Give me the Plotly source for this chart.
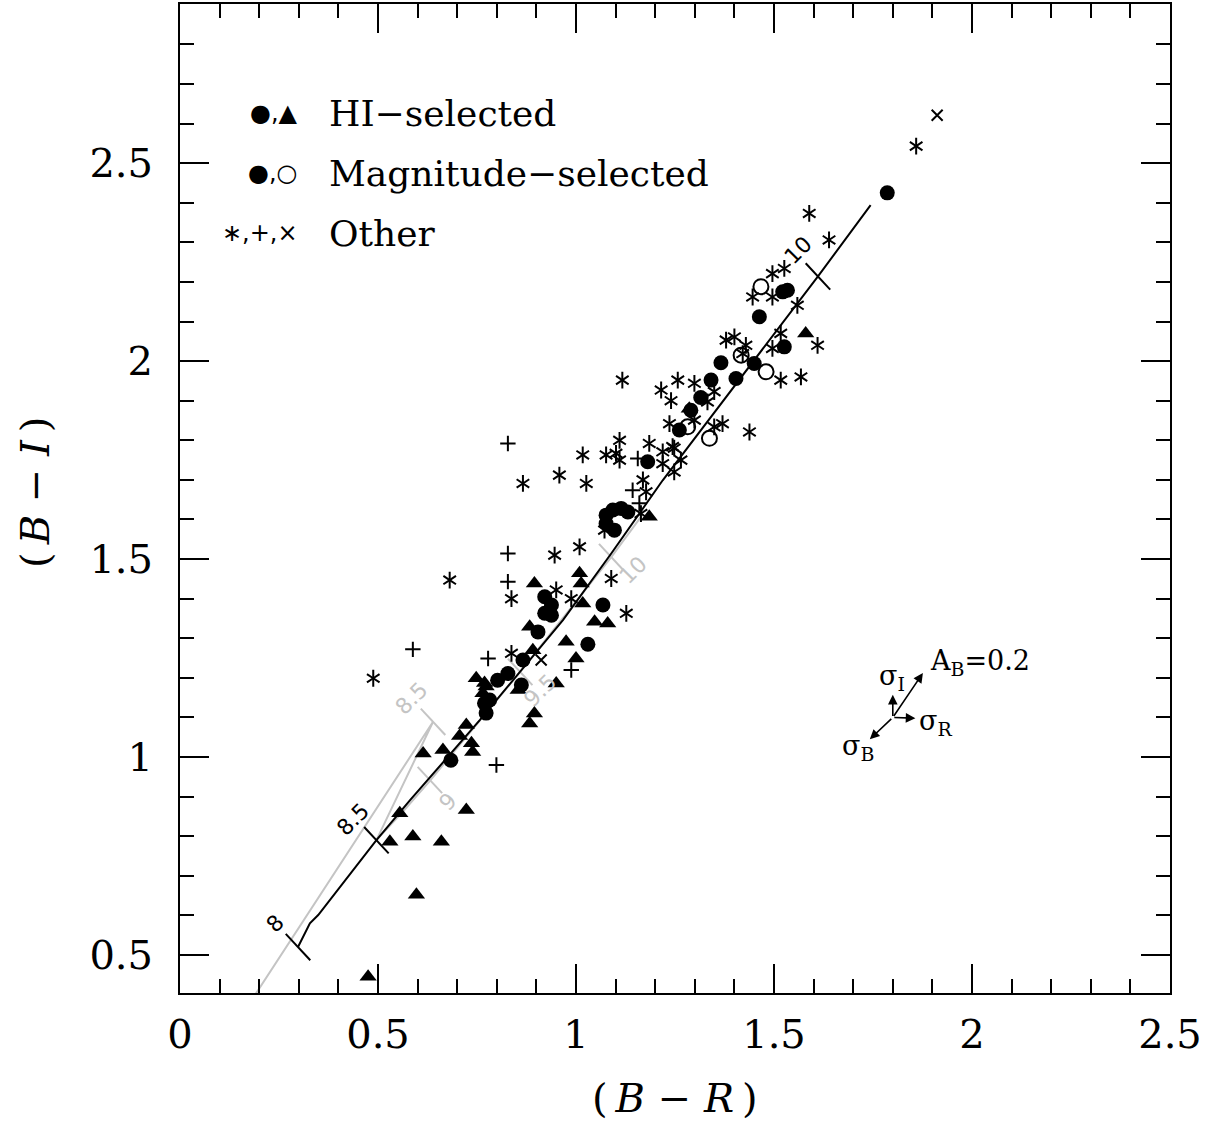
import plotly.graph_objects as go

# ---------------- data ----------------
# filled circles: HI- and magnitude-selected
filled_x = [0.684, 0.769, 0.773, 0.782, 0.802, 0.828, 0.862, 0.866, 0.904, 0.921, 0.921,
            0.938, 0.938, 1.030, 1.068, 1.076, 1.093, 1.114, 1.131, 1.097, 1.076, 1.181,
            1.261, 1.290, 1.315, 1.341, 1.366, 1.404, 1.450, 1.463, 1.522, 1.534, 1.526, 1.786]
filled_y = [0.992, 1.136, 1.111, 1.144, 1.194, 1.211, 1.182, 1.245, 1.316, 1.405, 1.363,
            1.358, 1.384, 1.285, 1.384, 1.611, 1.624, 1.628, 1.619, 1.573, 1.590, 1.746,
            1.826, 1.876, 1.908, 1.952, 1.996, 1.956, 1.994, 2.112, 2.175, 2.179, 2.036, 2.425]

# triangles: HI-selected only
tri_x = [0.475, 0.597, 0.530, 0.588, 0.660, 0.555, 0.723, 0.614, 0.664, 0.706, 0.723,
         0.736, 0.739, 0.748, 0.765, 0.773, 0.769, 0.854, 0.883, 0.895, 0.950, 0.883,
         0.891, 0.895, 0.975, 1.000, 1.009, 1.013, 1.017, 1.047, 1.080, 1.185, 1.286, 1.580]
tri_y = [0.445, 0.652, 0.786, 0.799, 0.786, 0.858, 0.866, 1.009, 1.018, 1.053, 1.081,
         1.035, 1.013, 1.199, 1.161, 1.178, 1.187, 1.169, 1.085, 1.110, 1.186, 1.329,
         1.270, 1.438, 1.291, 1.249, 1.464, 1.438, 1.388, 1.342, 1.337, 1.607, 1.880, 2.070]

# open circles: magnitude-selected only
open_x = [1.282, 1.337, 1.417, 1.467, 1.480]
open_y = [1.834, 1.805, 2.015, 2.188, 1.973]

# other: asterisks, pluses, crosses
star_x = [0.488, 0.681, 0.837, 0.837, 0.866, 0.958, 1.026, 1.017, 1.076, 1.101, 1.110,
          1.110, 1.117, 0.946, 1.009, 0.950, 0.988, 1.072, 1.089, 1.127, 1.164, 1.169,
          1.177, 1.185, 1.219, 1.248, 1.219, 1.265, 1.248, 1.244, 1.236, 1.215, 1.240,
          1.257, 1.299, 1.349, 1.332, 1.299, 1.349, 1.370, 1.438, 1.379, 1.400, 1.429,
          1.421, 1.496, 1.517, 1.517, 1.568, 1.559, 1.610, 1.446, 1.496, 1.496, 1.526,
          1.589, 1.639, 1.859]
star_y = [1.199, 1.447, 1.262, 1.400, 1.691, 1.712, 1.691, 1.763, 1.763, 1.767, 1.750,
          1.800, 1.952, 1.510, 1.531, 1.422, 1.400, 1.573, 1.451, 1.363, 1.615, 1.700,
          1.670, 1.792, 1.771, 1.780, 1.741, 1.750, 1.720, 1.784, 1.842, 1.927, 1.900,
          1.952, 1.944, 1.923, 1.897, 1.851, 1.834, 1.842, 1.821, 2.053, 2.061, 2.040,
          2.019, 2.032, 2.070, 1.952, 1.960, 2.141, 2.040, 2.162, 2.162, 2.221, 2.234,
          2.373, 2.306, 2.543]

plus_x = [0.588, 0.778, 0.799, 0.828, 0.828, 0.828, 0.988, 1.143, 1.160, 1.156]
plus_y = [1.272, 1.249, 0.980, 1.792, 1.514, 1.443, 1.220, 1.674, 1.641, 1.754]

cross_x = [0.912, 1.912]
cross_y = [1.245, 2.621]

# model tracks
black_track_x = [0.298, 0.328, 0.349, 0.496, 0.581, 0.757, 0.967, 1.089, 1.219, 1.611, 1.744]
black_track_y = [0.520, 0.580, 0.601, 0.790, 0.891, 1.093, 1.346, 1.514, 1.699, 2.214, 2.394]
gray_track_x = [0.177, 0.639, 0.496, 0.563, 0.631, 0.859, 1.089, 1.170]
gray_track_y = [0.380, 1.089, 0.790, 0.862, 0.940, 1.215, 1.505, 1.615]

# age ticks on tracks
black_tick_x = [0.298, 0.496, 1.611]
black_tick_y = [0.520, 0.790, 2.214]
black_tick_labels = ["8", "8.5", "10"]
black_label_x = [0.240, 0.437, 1.560]
black_label_y = [0.580, 0.841, 2.280]

gray_tick_x = [0.639, 0.631, 0.859, 1.089]
gray_tick_y = [1.089, 0.942, 1.215, 1.505]
gray_tick_labels = ["8.5", "9", "9.5", "10"]
gray_label_x = [0.584, 0.677, 0.910, 1.143]
gray_label_y = [1.148, 0.887, 1.167, 1.472]

# error / reddening vectors
err_origin_x = 1.800
err_origin_y = 1.100
err_tip_x = [1.876, 1.742, 1.800, 1.857]
err_tip_y = [1.212, 1.045, 1.157, 1.098]
err_labels = ["A<sub>B</sub>=0.2", "σ<sub>B</sub>", "σ<sub>I</sub>", "σ<sub>R</sub>"]
err_label_x = [1.890, 1.712, 1.798, 1.862]
err_label_y = [1.240, 1.023, 1.202, 1.088]
err_label_anchor = ["left", "center", "center", "left"]

# legend
legend_symbols = ["●,▲", "●,○", "∗,+,×"]
legend_texts = ["HI−selected", "Magnitude−selected", "Other"]
legend_y = [2.626, 2.475, 2.323]

x_ticks = [0, 0.5, 1, 1.5, 2, 2.5]
x_ticktext = ["0", "0.5", "1", "1.5", "2", "2.5"]
y_ticks = [0.5, 1, 1.5, 2, 2.5]
y_ticktext = ["0.5", "1", "1.5", "2", "2.5"]

# ---------------- styles ----------------
GRAY = "#c4c4c4"
SERIF = "DejaVu Serif"
SANS = "DejaVu Sans"
XR = [0, 2.5]
YR = [0.404, 2.902]
W, H = 1215, 1125
ML, MR, MT, MB = 180, 45, 4, 132
PXX = (W - ML - MR) / (XR[1] - XR[0])
PXY = (H - MT - MB) / (YR[1] - YR[0])
TICK_HALF = 18.0
TDIR = (0.681, 0.732)  # screen direction of tick marks (right, down)

fig = go.Figure()


def tick_segments(xs, ys):
    sx, sy = [], []
    dx = TICK_HALF * TDIR[0] / PXX
    dy = TICK_HALF * TDIR[1] / PXY
    for x, y in zip(xs, ys):
        sx += [x - dx, x + dx, None]
        sy += [y + dy, y - dy, None]
    return sx, sy


# gray track
fig.add_trace(go.Scatter(x=gray_track_x, y=gray_track_y, mode="lines",
                         line=dict(color=GRAY, width=2), hoverinfo="skip"))
gx, gy = tick_segments(gray_tick_x, gray_tick_y)
fig.add_trace(go.Scatter(x=gx, y=gy, mode="lines",
                         line=dict(color=GRAY, width=2), hoverinfo="skip"))
# black track
fig.add_trace(go.Scatter(x=black_track_x, y=black_track_y, mode="lines",
                         line=dict(color="black", width=2), hoverinfo="skip"))
bx, by = tick_segments(black_tick_x, black_tick_y)
fig.add_trace(go.Scatter(x=bx, y=by, mode="lines",
                         line=dict(color="black", width=2), hoverinfo="skip"))

# markers
fig.add_trace(go.Scatter(x=tri_x, y=tri_y, mode="markers",
                         marker=dict(symbol="triangle-up", size=15, color="black",
                                     line=dict(width=0))))
fig.add_trace(go.Scatter(x=filled_x, y=filled_y, mode="markers",
                         marker=dict(symbol="circle", size=15, color="black",
                                     line=dict(width=0))))
fig.add_trace(go.Scatter(x=open_x, y=open_y, mode="markers",
                         marker=dict(symbol="circle-open", size=15, color="black",
                                     line=dict(width=2, color="black"))))
for sym in ["y-up-open", "y-down-open"]:
    fig.add_trace(go.Scatter(x=star_x, y=star_y, mode="markers",
                             marker=dict(symbol=sym, size=10.5, color="black",
                                         line=dict(width=2, color="black"))))
fig.add_trace(go.Scatter(x=plus_x, y=plus_y, mode="markers",
                         marker=dict(symbol="cross-thin-open", size=11, color="black",
                                     line=dict(width=2, color="black"))))
fig.add_trace(go.Scatter(x=cross_x, y=cross_y, mode="markers",
                         marker=dict(symbol="x-thin-open", size=11, color="black",
                                     line=dict(width=2, color="black"))))

ann = []
# track labels
for x, y, t in zip(black_label_x, black_label_y, black_tick_labels):
    ann.append(dict(x=x, y=y, text=t, showarrow=False, textangle=-45,
                    font=dict(family=SANS, size=22, color="black")))
for x, y, t in zip(gray_label_x, gray_label_y, gray_tick_labels):
    ann.append(dict(x=x, y=y, text=t, showarrow=False, textangle=-45,
                    font=dict(family=SANS, size=22, color=GRAY)))

# error arrows
for tx, ty in zip(err_tip_x, err_tip_y):
    ann.append(dict(x=tx, y=ty, ax=err_origin_x, ay=err_origin_y, axref="x", ayref="y",
                    xref="x", yref="y", text="", showarrow=True, arrowhead=2,
                    arrowsize=1.2, arrowwidth=1.6, arrowcolor="black", standoff=0))
for x, y, t, a in zip(err_label_x, err_label_y, err_labels, err_label_anchor):
    ann.append(dict(x=x, y=y, text=t, showarrow=False, xanchor=a, yanchor="middle",
                    font=dict(family=SERIF, size=27, color="black")))

# legend
for y, s, t in zip(legend_y, legend_symbols, legend_texts):
    ann.append(dict(x=0.303, y=y, text=s, showarrow=False, xanchor="right",
                    yanchor="middle", font=dict(family=SANS, size=24, color="black")))
    ann.append(dict(x=0.371, y=y, text=t, showarrow=False, xanchor="left",
                    yanchor="middle", font=dict(family=SERIF, size=36, color="black")))

# axis titles
ann.append(dict(x=0.5, y=-0.106, xref="paper", yref="paper", showarrow=False,
                text="(\u2009<i>B</i> − <i>R</i>\u2009)", yanchor="middle",
                font=dict(family=SERIF, size=40, color="black")))
ann.append(dict(x=-0.1465, y=0.5066, xref="paper", yref="paper", showarrow=False,
                text="(\u2009<i>B</i> − <i>I</i>\u2009)", textangle=-90, xanchor="center",
                yanchor="middle", font=dict(family=SERIF, size=40, color="black")))

axis_common = dict(showgrid=False, zeroline=False, showline=True, linecolor="black",
                   linewidth=2, mirror="ticks", ticks="inside", ticklen=29, tickwidth=1.5,
                   tickcolor="black", tickfont=dict(family=SERIF, size=40, color="black"),
                   minor=dict(dtick=0.1, ticklen=14, ticks="inside", tickwidth=1.5,
                              tickcolor="black", showgrid=False))

fig.update_layout(
    width=W, height=H, showlegend=False,
    plot_bgcolor="white", paper_bgcolor="white",
    margin=dict(l=ML, r=MR, t=MT, b=MB, autoexpand=False),
    xaxis=dict(range=XR, tickvals=x_ticks, ticktext=x_ticktext, ticklabelstandoff=5,
               **axis_common),
    yaxis=dict(range=YR, tickvals=y_ticks, ticktext=y_ticktext, ticklabelstandoff=17,
               **axis_common),
    annotations=ann,
)
fig.update_xaxes(minor=dict(tick0=0))
fig.update_yaxes(minor=dict(tick0=0))

fig.write_html("out.html", config={"displayModeBar": False},
               post_script="document.body.style.margin='0px';document.body.style.overflow='hidden';")
